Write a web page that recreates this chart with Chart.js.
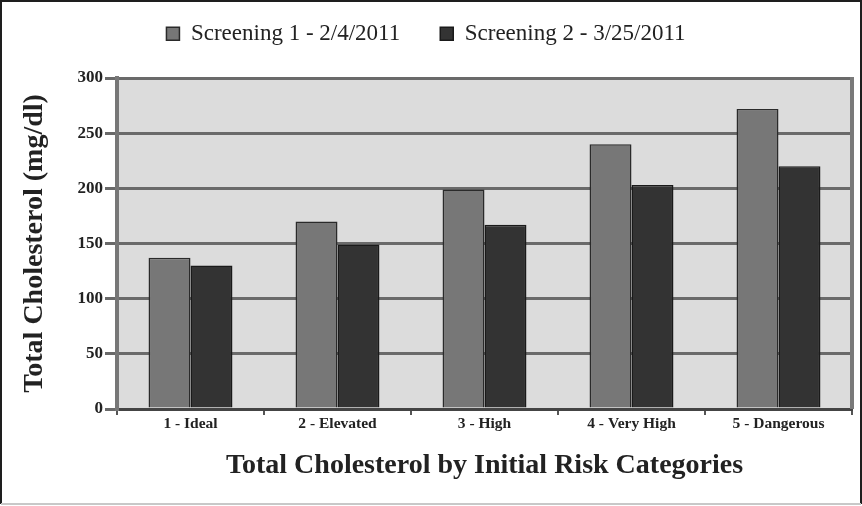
<!DOCTYPE html>
<html>
<head>
<meta charset="utf-8">
<script src="https://cdn.jsdelivr.net/npm/chart.js@4/dist/chart.umd.min.js"></script>
<style>
  html, body { margin: 0; padding: 0; background: #ffffff; }
  #wrap { width: 862px; height: 506px; position: relative; }
</style>
</head>
<body>
<div id="wrap"><canvas id="chart" width="862" height="506"></canvas></div>
<script>
// Mean total cholesterol per initial risk category, two screenings
const categories = ['1 - Ideal', '2 - Elevated', '3 - High', '4 - Very High', '5 - Dangerous'];
const screening1 = [137, 170, 199, 240, 272];
const screening2 = [130, 149, 167, 203, 220];
const seriesNames = ['Screening 1 - 2/4/2011', 'Screening 2 - 3/25/2011'];
const yTicks = [0, 50, 100, 150, 200, 250, 300];

const SERIF = "'Liberation Serif', 'Times New Roman', serif";

// Grey plot background, right-hand frame line and the outer border
const framePlugin = {
  id: 'frame',
  beforeDraw(chart) {
    const { ctx, chartArea: a, width, height } = chart;
    ctx.save();
    ctx.fillStyle = '#ffffff';
    ctx.fillRect(0, 0, width, height);
    ctx.fillStyle = '#dcdcdc';
    ctx.fillRect(a.left, a.top, a.right - a.left, a.bottom - a.top);
    ctx.restore();
  },
  afterDraw(chart) {
    const { ctx, chartArea: a, width, height } = chart;
    ctx.save();
    ctx.strokeStyle = '#7a7a7a';
    ctx.lineWidth = 4;
    ctx.beginPath();
    ctx.moveTo(a.right, a.top - 1);
    ctx.lineTo(a.right, a.bottom);
    ctx.stroke();
    ctx.lineWidth = 2;
    ctx.strokeStyle = '#1e1e1e';
    ctx.beginPath();
    ctx.moveTo(1, height - 2);
    ctx.lineTo(1, 1);
    ctx.lineTo(width - 1, 1);
    ctx.lineTo(width - 1, height - 2);
    ctx.stroke();
    ctx.strokeStyle = '#c8c8c8';
    ctx.beginPath();
    ctx.moveTo(1, height - 2);
    ctx.lineTo(width - 1, height - 2);
    ctx.stroke();
    ctx.restore();
  }
};

new Chart(document.getElementById('chart'), {
  type: 'bar',
  data: {
    labels: categories,
    datasets: [
      { label: seriesNames[0], data: screening1, backgroundColor: '#777777', borderColor: '#2a2a2a', borderWidth: 1.5 },
      { label: seriesNames[1], data: screening2, backgroundColor: '#333333', borderColor: '#1a1a1a', borderWidth: 1.5 }
    ]
  },
  plugins: [framePlugin],
  options: {
    responsive: false,
    animation: false,
    layout: { padding: { top: -17.75, right: 10, left: 0, bottom: 0 } },
    datasets: { bar: { categoryPercentage: 0.571, barPercentage: 1.0 } },
    plugins: {
      tooltip: { enabled: false },
      legend: {
        position: 'top',
        labels: {
          font: { family: SERIF, size: 23 },
          color: '#222222',
          boxWidth: 13,
          boxHeight: 13,
          padding: 40
        }
      },
      // empty spacer between the legend and the plot
      subtitle: {
        display: true,
        text: '',
        weight: 500,
        font: { size: 10 },
        padding: { top: 0, bottom: 10.75 }
      }
    },
    scales: {
      x: {
        afterFit(scale) { scale.height = 97; },
        grid: { offset: true, drawOnChartArea: false, drawTicks: true, tickLength: 6, color: '#555555', lineWidth: 2 },
        border: { color: '#444444', width: 3 },
        ticks: { font: { family: SERIF, size: 15.5, weight: 'bold' }, color: '#222222', padding: 0 },
        title: {
          display: true,
          text: 'Total Cholesterol by Initial Risk Categories',
          font: { family: SERIF, size: 28, weight: 'bold' },
          color: '#222222',
          padding: { top: 0, bottom: 23 }
        }
      },
      y: {
        min: 0,
        max: 300,
        afterFit(scale) { scale.width = 117; },
        afterBuildTicks(scale) { scale.ticks = yTicks.map(v => ({ value: v })); },
        grid: { color: '#6a6a6a', lineWidth: 3, drawTicks: true, tickLength: 12 },
        border: { color: '#777777', width: 4 },
        ticks: { font: { family: SERIF, size: 17, weight: 'bold' }, color: '#222222', padding: 2 },
        title: {
          display: true,
          text: 'Total Cholesterol (mg/dl)',
          font: { family: SERIF, size: 28, weight: 'bold' },
          color: '#222222',
          padding: { top: 18, bottom: 0 }
        }
      }
    }
  }
});
</script>
</body>
</html>
